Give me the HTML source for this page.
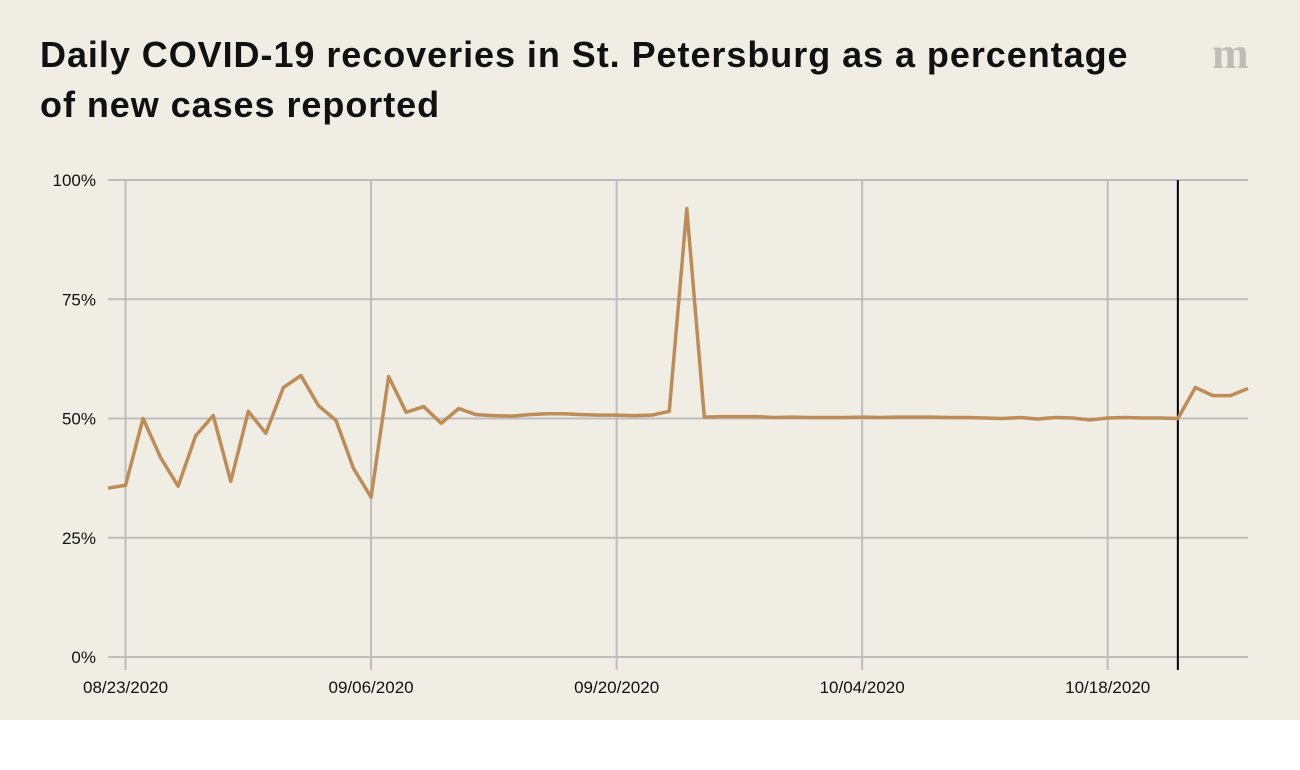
<!DOCTYPE html>
<html><head><meta charset="utf-8"><style>
body{margin:0;width:1300px;height:770px;background:#fff;font-family:"Liberation Sans",sans-serif;overflow:hidden}
#bg{position:absolute;left:0;top:0;width:1300px;height:720px;background:#f0ede5}
h1{position:absolute;left:40px;top:30px;margin:0;font-size:36px;line-height:50px;font-weight:bold;color:#111;width:1160px;letter-spacing:0.95px;white-space:nowrap}
#logo{position:absolute;left:1212px;top:28px;font-family:"Liberation Serif",serif;font-weight:bold;font-size:44px;color:#bfbcb5}
svg{position:absolute;left:0;top:0}
</style></head><body>
<div id="bg"></div>
<h1>Daily COVID-19 recoveries in St. Petersburg as a percentage<br>of new cases reported</h1>
<div id="logo">m</div>
<svg id="c" width="1300" height="770"></svg>
<script>
const startDate = "2020-08-22";
const values = [35.4,36.0,50.0,41.8,35.8,46.4,50.6,36.8,51.5,46.9,56.5,59.0,52.7,49.6,39.5,33.5,58.8,51.3,52.5,49.0,52.1,50.8,50.6,
50.5,50.8,51.0,51.0,50.8,50.7,50.7,50.6,50.7,51.5,94.0,50.3,50.4,50.4,50.4,50.2,50.3,50.2,50.2,50.2,50.3,50.2,50.3,50.3,50.3,50.2,50.2,50.1,50.0,50.2,49.9,50.2,50.1,49.7,50.1,50.2,50.1,50.1,50.0,56.5,54.8,54.8,56.3];
const yTicks = [0,25,50,75,100];
const xTickLabels = ["08/23/2020","09/06/2020","09/20/2020","10/04/2020","10/18/2020"];
const xTickIndex = [1,15,29,43,57];
const markerIndex = 61;
const NS="http://www.w3.org/2000/svg", svg=document.getElementById('c');
const x0=108,x1=1248,y0=657,y1=180;
const xs=i=>x0+(x1-x0)*i/(values.length-1);
const ys=v=>y0-(y0-y1)*v/100;
function mk(t,a){const e=document.createElementNS(NS,t);for(const k in a)e.setAttribute(k,a[k]);svg.appendChild(e);return e;}
yTicks.forEach(v=>{
  const l=mk('line',{x1:x0,x2:x1,y1:ys(v),y2:ys(v),stroke:'#bdbdbd','stroke-width':2});
  
  
  const t=mk('text',{x:96,y:ys(v)+6,'text-anchor':'end','font-size':17,fill:'#111'});
  t.textContent=v+'%';
  
  
});
xTickIndex.forEach((i,k)=>{
  const l=mk('line',{x1:xs(i),x2:xs(i),y1:y1,y2:670,stroke:'#bdbdbd','stroke-width':2});
  
  
  const t=mk('text',{x:xs(i),y:693,'text-anchor':'middle','font-size':17,fill:'#111'});
  t.textContent=xTickLabels[k];
  
  
});
const m=mk('line',{x1:xs(markerIndex),x2:xs(markerIndex),y1:y1,y2:670,stroke:'#000','stroke-width':2});


const p=mk('polyline',{points:values.map((v,i)=>xs(i)+','+ys(v)).join(' '),fill:'none',stroke:'#bd8c57','stroke-width':3.5,'stroke-linejoin':'round'});


</script>
</body></html>
